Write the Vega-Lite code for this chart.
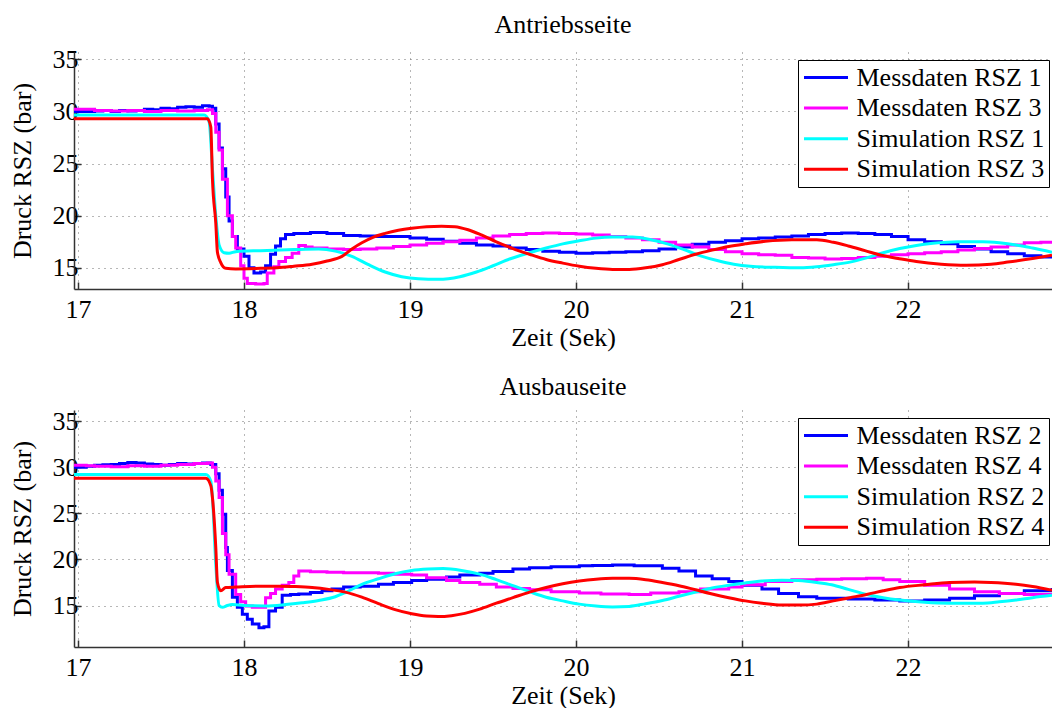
{
  "$schema": "https://vega.github.io/schema/vega-lite/v6.json",
  "background": "white",
  "padding": {"left": 9, "top": 12, "right": 0, "bottom": 0},
  "config": {
    "font": "Liberation Serif",
    "view": {"stroke": null},
    "axis": {
      "labelFont": "Liberation Serif", "labelFontSize": 26, "labelColor": "black",
      "titleFont": "Liberation Serif", "titleFontSize": 26, "titleFontWeight": "normal", "titleColor": "black",
      "domainColor": "#333333", "domainWidth": 1.5,
      "tickColor": "#333333", "tickWidth": 1.5, "tickSize": -7,
      "grid": true, "gridColor": "#6f6f6f", "gridDash": [1, 5], "gridWidth": 1
    },
    "axisX": {"labelPadding": 14, "titlePadding": 2},
    "axisY": {"labelPadding": 3, "titlePadding": 17},
    "legend": {
      "labelFont": "Liberation Serif", "labelFontSize": 26, "labelColor": "black", "labelLimit": 400,
      "symbolType": "stroke", "symbolSize": 1936, "symbolStrokeWidth": 3, "clipHeight": 26,
      "strokeColor": "black", "fillColor": "white", "padding": 4.5, "rowPadding": 4.6, "labelOffset": 7
    },
    "title": {"font": "Liberation Serif", "fontSize": 26, "fontWeight": "normal", "color": "black", "baseline": "alphabetic", "offset": 8}
  },
  "datasets": {
    "antrieb": [
      {"Reihe": "Messdaten RSZ 1", "Zeit": 16.976, "Druck": 30.0},
      {"Reihe": "Messdaten RSZ 1", "Zeit": 17.05, "Druck": 30.0},
      {"Reihe": "Messdaten RSZ 1", "Zeit": 17.1, "Druck": 30.05},
      {"Reihe": "Messdaten RSZ 1", "Zeit": 17.15, "Druck": 30.1},
      {"Reihe": "Messdaten RSZ 1", "Zeit": 17.2, "Druck": 30.0},
      {"Reihe": "Messdaten RSZ 1", "Zeit": 17.25, "Druck": 30.1},
      {"Reihe": "Messdaten RSZ 1", "Zeit": 17.3, "Druck": 30.05},
      {"Reihe": "Messdaten RSZ 1", "Zeit": 17.35, "Druck": 30.1},
      {"Reihe": "Messdaten RSZ 1", "Zeit": 17.4, "Druck": 30.2},
      {"Reihe": "Messdaten RSZ 1", "Zeit": 17.45, "Druck": 30.15},
      {"Reihe": "Messdaten RSZ 1", "Zeit": 17.5, "Druck": 30.3},
      {"Reihe": "Messdaten RSZ 1", "Zeit": 17.55, "Druck": 30.25},
      {"Reihe": "Messdaten RSZ 1", "Zeit": 17.6, "Druck": 30.4},
      {"Reihe": "Messdaten RSZ 1", "Zeit": 17.65, "Druck": 30.45},
      {"Reihe": "Messdaten RSZ 1", "Zeit": 17.7, "Druck": 30.4},
      {"Reihe": "Messdaten RSZ 1", "Zeit": 17.75, "Druck": 30.55},
      {"Reihe": "Messdaten RSZ 1", "Zeit": 17.79, "Druck": 30.5},
      {"Reihe": "Messdaten RSZ 1", "Zeit": 17.81, "Druck": 30.3},
      {"Reihe": "Messdaten RSZ 1", "Zeit": 17.83, "Druck": 28.8},
      {"Reihe": "Messdaten RSZ 1", "Zeit": 17.85, "Druck": 26.5},
      {"Reihe": "Messdaten RSZ 1", "Zeit": 17.87, "Druck": 24.5},
      {"Reihe": "Messdaten RSZ 1", "Zeit": 17.89, "Druck": 21.8},
      {"Reihe": "Messdaten RSZ 1", "Zeit": 17.91, "Druck": 19.5},
      {"Reihe": "Messdaten RSZ 1", "Zeit": 17.93, "Druck": 18.0},
      {"Reihe": "Messdaten RSZ 1", "Zeit": 17.96, "Druck": 16.8},
      {"Reihe": "Messdaten RSZ 1", "Zeit": 18.0, "Druck": 16.1},
      {"Reihe": "Messdaten RSZ 1", "Zeit": 18.03, "Druck": 15.0},
      {"Reihe": "Messdaten RSZ 1", "Zeit": 18.06, "Druck": 14.5},
      {"Reihe": "Messdaten RSZ 1", "Zeit": 18.1, "Druck": 14.6},
      {"Reihe": "Messdaten RSZ 1", "Zeit": 18.13, "Druck": 15.2},
      {"Reihe": "Messdaten RSZ 1", "Zeit": 18.16, "Druck": 16.3},
      {"Reihe": "Messdaten RSZ 1", "Zeit": 18.19, "Druck": 17.1},
      {"Reihe": "Messdaten RSZ 1", "Zeit": 18.22, "Druck": 17.8},
      {"Reihe": "Messdaten RSZ 1", "Zeit": 18.25, "Druck": 18.2},
      {"Reihe": "Messdaten RSZ 1", "Zeit": 18.3, "Druck": 18.3},
      {"Reihe": "Messdaten RSZ 1", "Zeit": 18.4, "Druck": 18.4},
      {"Reihe": "Messdaten RSZ 1", "Zeit": 18.5, "Druck": 18.3},
      {"Reihe": "Messdaten RSZ 1", "Zeit": 18.6, "Druck": 18.1},
      {"Reihe": "Messdaten RSZ 1", "Zeit": 18.7, "Druck": 18.05},
      {"Reihe": "Messdaten RSZ 1", "Zeit": 18.8, "Druck": 18.0},
      {"Reihe": "Messdaten RSZ 1", "Zeit": 18.9, "Druck": 18.0},
      {"Reihe": "Messdaten RSZ 1", "Zeit": 19.0, "Druck": 17.85},
      {"Reihe": "Messdaten RSZ 1", "Zeit": 19.1, "Druck": 17.75},
      {"Reihe": "Messdaten RSZ 1", "Zeit": 19.2, "Druck": 17.55},
      {"Reihe": "Messdaten RSZ 1", "Zeit": 19.3, "Druck": 17.35},
      {"Reihe": "Messdaten RSZ 1", "Zeit": 19.4, "Druck": 17.2},
      {"Reihe": "Messdaten RSZ 1", "Zeit": 19.5, "Druck": 17.1},
      {"Reihe": "Messdaten RSZ 1", "Zeit": 19.6, "Druck": 16.9},
      {"Reihe": "Messdaten RSZ 1", "Zeit": 19.7, "Druck": 16.75},
      {"Reihe": "Messdaten RSZ 1", "Zeit": 19.8, "Druck": 16.6},
      {"Reihe": "Messdaten RSZ 1", "Zeit": 19.9, "Druck": 16.5},
      {"Reihe": "Messdaten RSZ 1", "Zeit": 20.0, "Druck": 16.4},
      {"Reihe": "Messdaten RSZ 1", "Zeit": 20.1, "Druck": 16.45},
      {"Reihe": "Messdaten RSZ 1", "Zeit": 20.2, "Druck": 16.5},
      {"Reihe": "Messdaten RSZ 1", "Zeit": 20.3, "Druck": 16.55},
      {"Reihe": "Messdaten RSZ 1", "Zeit": 20.4, "Druck": 16.65},
      {"Reihe": "Messdaten RSZ 1", "Zeit": 20.5, "Druck": 16.8},
      {"Reihe": "Messdaten RSZ 1", "Zeit": 20.6, "Druck": 17.0},
      {"Reihe": "Messdaten RSZ 1", "Zeit": 20.7, "Druck": 17.25},
      {"Reihe": "Messdaten RSZ 1", "Zeit": 20.8, "Druck": 17.45},
      {"Reihe": "Messdaten RSZ 1", "Zeit": 20.9, "Druck": 17.6},
      {"Reihe": "Messdaten RSZ 1", "Zeit": 21.0, "Druck": 17.8},
      {"Reihe": "Messdaten RSZ 1", "Zeit": 21.1, "Druck": 17.85},
      {"Reihe": "Messdaten RSZ 1", "Zeit": 21.2, "Druck": 17.95},
      {"Reihe": "Messdaten RSZ 1", "Zeit": 21.3, "Druck": 18.05},
      {"Reihe": "Messdaten RSZ 1", "Zeit": 21.4, "Druck": 18.2},
      {"Reihe": "Messdaten RSZ 1", "Zeit": 21.5, "Druck": 18.3},
      {"Reihe": "Messdaten RSZ 1", "Zeit": 21.6, "Druck": 18.35},
      {"Reihe": "Messdaten RSZ 1", "Zeit": 21.7, "Druck": 18.3},
      {"Reihe": "Messdaten RSZ 1", "Zeit": 21.8, "Druck": 18.2},
      {"Reihe": "Messdaten RSZ 1", "Zeit": 21.9, "Druck": 18.0},
      {"Reihe": "Messdaten RSZ 1", "Zeit": 22.0, "Druck": 17.7},
      {"Reihe": "Messdaten RSZ 1", "Zeit": 22.1, "Druck": 17.5},
      {"Reihe": "Messdaten RSZ 1", "Zeit": 22.2, "Druck": 17.3},
      {"Reihe": "Messdaten RSZ 1", "Zeit": 22.3, "Druck": 17.05},
      {"Reihe": "Messdaten RSZ 1", "Zeit": 22.4, "Druck": 16.8},
      {"Reihe": "Messdaten RSZ 1", "Zeit": 22.5, "Druck": 16.55},
      {"Reihe": "Messdaten RSZ 1", "Zeit": 22.6, "Druck": 16.35},
      {"Reihe": "Messdaten RSZ 1", "Zeit": 22.7, "Druck": 16.15},
      {"Reihe": "Messdaten RSZ 1", "Zeit": 22.8, "Druck": 16.05},
      {"Reihe": "Messdaten RSZ 1", "Zeit": 22.867, "Druck": 16.0},

      {"Reihe": "Messdaten RSZ 3", "Zeit": 16.976, "Druck": 30.2},
      {"Reihe": "Messdaten RSZ 3", "Zeit": 17.1, "Druck": 30.1},
      {"Reihe": "Messdaten RSZ 3", "Zeit": 17.2, "Druck": 30.05},
      {"Reihe": "Messdaten RSZ 3", "Zeit": 17.3, "Druck": 30.1},
      {"Reihe": "Messdaten RSZ 3", "Zeit": 17.4, "Druck": 30.0},
      {"Reihe": "Messdaten RSZ 3", "Zeit": 17.5, "Druck": 30.1},
      {"Reihe": "Messdaten RSZ 3", "Zeit": 17.6, "Druck": 30.05},
      {"Reihe": "Messdaten RSZ 3", "Zeit": 17.7, "Druck": 30.1},
      {"Reihe": "Messdaten RSZ 3", "Zeit": 17.78, "Druck": 30.15},
      {"Reihe": "Messdaten RSZ 3", "Zeit": 17.81, "Druck": 29.8},
      {"Reihe": "Messdaten RSZ 3", "Zeit": 17.83, "Druck": 28.0},
      {"Reihe": "Messdaten RSZ 3", "Zeit": 17.85, "Druck": 26.3},
      {"Reihe": "Messdaten RSZ 3", "Zeit": 17.87, "Druck": 23.5},
      {"Reihe": "Messdaten RSZ 3", "Zeit": 17.9, "Druck": 20.0},
      {"Reihe": "Messdaten RSZ 3", "Zeit": 17.93, "Druck": 18.0},
      {"Reihe": "Messdaten RSZ 3", "Zeit": 17.95, "Druck": 16.9},
      {"Reihe": "Messdaten RSZ 3", "Zeit": 17.98, "Druck": 15.2},
      {"Reihe": "Messdaten RSZ 3", "Zeit": 18.0, "Druck": 14.0},
      {"Reihe": "Messdaten RSZ 3", "Zeit": 18.02, "Druck": 13.5},
      {"Reihe": "Messdaten RSZ 3", "Zeit": 18.07, "Druck": 13.45},
      {"Reihe": "Messdaten RSZ 3", "Zeit": 18.12, "Druck": 13.5},
      {"Reihe": "Messdaten RSZ 3", "Zeit": 18.14, "Druck": 14.5},
      {"Reihe": "Messdaten RSZ 3", "Zeit": 18.18, "Druck": 15.1},
      {"Reihe": "Messdaten RSZ 3", "Zeit": 18.21, "Druck": 15.6},
      {"Reihe": "Messdaten RSZ 3", "Zeit": 18.25, "Druck": 16.0},
      {"Reihe": "Messdaten RSZ 3", "Zeit": 18.29, "Druck": 16.4},
      {"Reihe": "Messdaten RSZ 3", "Zeit": 18.33, "Druck": 17.15},
      {"Reihe": "Messdaten RSZ 3", "Zeit": 18.37, "Druck": 17.0},
      {"Reihe": "Messdaten RSZ 3", "Zeit": 18.41, "Druck": 16.9},
      {"Reihe": "Messdaten RSZ 3", "Zeit": 18.5, "Druck": 16.8},
      {"Reihe": "Messdaten RSZ 3", "Zeit": 18.6, "Druck": 16.75},
      {"Reihe": "Messdaten RSZ 3", "Zeit": 18.7, "Druck": 16.8},
      {"Reihe": "Messdaten RSZ 3", "Zeit": 18.8, "Druck": 16.9},
      {"Reihe": "Messdaten RSZ 3", "Zeit": 18.9, "Druck": 17.05},
      {"Reihe": "Messdaten RSZ 3", "Zeit": 19.0, "Druck": 17.2},
      {"Reihe": "Messdaten RSZ 3", "Zeit": 19.1, "Druck": 17.35},
      {"Reihe": "Messdaten RSZ 3", "Zeit": 19.2, "Druck": 17.5},
      {"Reihe": "Messdaten RSZ 3", "Zeit": 19.3, "Druck": 17.65},
      {"Reihe": "Messdaten RSZ 3", "Zeit": 19.4, "Druck": 17.85},
      {"Reihe": "Messdaten RSZ 3", "Zeit": 19.5, "Druck": 18.05},
      {"Reihe": "Messdaten RSZ 3", "Zeit": 19.6, "Druck": 18.2},
      {"Reihe": "Messdaten RSZ 3", "Zeit": 19.7, "Druck": 18.3},
      {"Reihe": "Messdaten RSZ 3", "Zeit": 19.8, "Druck": 18.35},
      {"Reihe": "Messdaten RSZ 3", "Zeit": 19.9, "Druck": 18.3},
      {"Reihe": "Messdaten RSZ 3", "Zeit": 20.0, "Druck": 18.25},
      {"Reihe": "Messdaten RSZ 3", "Zeit": 20.1, "Druck": 18.15},
      {"Reihe": "Messdaten RSZ 3", "Zeit": 20.2, "Druck": 18.0},
      {"Reihe": "Messdaten RSZ 3", "Zeit": 20.3, "Druck": 17.85},
      {"Reihe": "Messdaten RSZ 3", "Zeit": 20.4, "Druck": 17.7},
      {"Reihe": "Messdaten RSZ 3", "Zeit": 20.5, "Druck": 17.45},
      {"Reihe": "Messdaten RSZ 3", "Zeit": 20.6, "Druck": 17.2},
      {"Reihe": "Messdaten RSZ 3", "Zeit": 20.7, "Druck": 17.0},
      {"Reihe": "Messdaten RSZ 3", "Zeit": 20.8, "Druck": 16.75},
      {"Reihe": "Messdaten RSZ 3", "Zeit": 20.9, "Druck": 16.55},
      {"Reihe": "Messdaten RSZ 3", "Zeit": 21.0, "Druck": 16.35},
      {"Reihe": "Messdaten RSZ 3", "Zeit": 21.1, "Druck": 16.25},
      {"Reihe": "Messdaten RSZ 3", "Zeit": 21.2, "Druck": 16.2},
      {"Reihe": "Messdaten RSZ 3", "Zeit": 21.3, "Druck": 16.0},
      {"Reihe": "Messdaten RSZ 3", "Zeit": 21.4, "Druck": 15.95},
      {"Reihe": "Messdaten RSZ 3", "Zeit": 21.5, "Druck": 15.85},
      {"Reihe": "Messdaten RSZ 3", "Zeit": 21.6, "Druck": 15.9},
      {"Reihe": "Messdaten RSZ 3", "Zeit": 21.7, "Druck": 16.0},
      {"Reihe": "Messdaten RSZ 3", "Zeit": 21.8, "Druck": 16.1},
      {"Reihe": "Messdaten RSZ 3", "Zeit": 21.9, "Druck": 16.25},
      {"Reihe": "Messdaten RSZ 3", "Zeit": 22.0, "Druck": 16.35},
      {"Reihe": "Messdaten RSZ 3", "Zeit": 22.1, "Druck": 16.45},
      {"Reihe": "Messdaten RSZ 3", "Zeit": 22.2, "Druck": 16.55},
      {"Reihe": "Messdaten RSZ 3", "Zeit": 22.3, "Druck": 16.7},
      {"Reihe": "Messdaten RSZ 3", "Zeit": 22.4, "Druck": 16.85},
      {"Reihe": "Messdaten RSZ 3", "Zeit": 22.5, "Druck": 17.0},
      {"Reihe": "Messdaten RSZ 3", "Zeit": 22.6, "Druck": 17.2},
      {"Reihe": "Messdaten RSZ 3", "Zeit": 22.7, "Druck": 17.4},
      {"Reihe": "Messdaten RSZ 3", "Zeit": 22.8, "Druck": 17.45},
      {"Reihe": "Messdaten RSZ 3", "Zeit": 22.867, "Druck": 17.5},

      {"Reihe": "Simulation RSZ 1", "Zeit": 16.976, "Druck": 29.65},
      {"Reihe": "Simulation RSZ 1", "Zeit": 17.76, "Druck": 29.65},
      {"Reihe": "Simulation RSZ 1", "Zeit": 17.79, "Druck": 29.0},
      {"Reihe": "Simulation RSZ 1", "Zeit": 17.81, "Druck": 24.5},
      {"Reihe": "Simulation RSZ 1", "Zeit": 17.83, "Druck": 20.0},
      {"Reihe": "Simulation RSZ 1", "Zeit": 17.85, "Druck": 17.2},
      {"Reihe": "Simulation RSZ 1", "Zeit": 17.88, "Druck": 16.45},
      {"Reihe": "Simulation RSZ 1", "Zeit": 17.91, "Druck": 16.4},
      {"Reihe": "Simulation RSZ 1", "Zeit": 17.95, "Druck": 16.55},
      {"Reihe": "Simulation RSZ 1", "Zeit": 18.1, "Druck": 16.65},
      {"Reihe": "Simulation RSZ 1", "Zeit": 18.3, "Druck": 16.75},
      {"Reihe": "Simulation RSZ 1", "Zeit": 18.45, "Druck": 16.8},
      {"Reihe": "Simulation RSZ 1", "Zeit": 18.55, "Druck": 16.6},
      {"Reihe": "Simulation RSZ 1", "Zeit": 18.65, "Druck": 16.1},
      {"Reihe": "Simulation RSZ 1", "Zeit": 18.75, "Druck": 15.3},
      {"Reihe": "Simulation RSZ 1", "Zeit": 18.85, "Druck": 14.6},
      {"Reihe": "Simulation RSZ 1", "Zeit": 18.95, "Druck": 14.15},
      {"Reihe": "Simulation RSZ 1", "Zeit": 19.05, "Druck": 13.95},
      {"Reihe": "Simulation RSZ 1", "Zeit": 19.17, "Druck": 13.9},
      {"Reihe": "Simulation RSZ 1", "Zeit": 19.3, "Druck": 14.15},
      {"Reihe": "Simulation RSZ 1", "Zeit": 19.4, "Druck": 14.6},
      {"Reihe": "Simulation RSZ 1", "Zeit": 19.5, "Druck": 15.2},
      {"Reihe": "Simulation RSZ 1", "Zeit": 19.6, "Druck": 15.85},
      {"Reihe": "Simulation RSZ 1", "Zeit": 19.72, "Druck": 16.45},
      {"Reihe": "Simulation RSZ 1", "Zeit": 19.82, "Druck": 16.9},
      {"Reihe": "Simulation RSZ 1", "Zeit": 19.92, "Druck": 17.3},
      {"Reihe": "Simulation RSZ 1", "Zeit": 20.02, "Druck": 17.6},
      {"Reihe": "Simulation RSZ 1", "Zeit": 20.12, "Druck": 17.85},
      {"Reihe": "Simulation RSZ 1", "Zeit": 20.22, "Druck": 17.95},
      {"Reihe": "Simulation RSZ 1", "Zeit": 20.34, "Druck": 17.95},
      {"Reihe": "Simulation RSZ 1", "Zeit": 20.45, "Druck": 17.7},
      {"Reihe": "Simulation RSZ 1", "Zeit": 20.55, "Druck": 17.3},
      {"Reihe": "Simulation RSZ 1", "Zeit": 20.65, "Druck": 16.75},
      {"Reihe": "Simulation RSZ 1", "Zeit": 20.75, "Druck": 16.15},
      {"Reihe": "Simulation RSZ 1", "Zeit": 20.85, "Druck": 15.7},
      {"Reihe": "Simulation RSZ 1", "Zeit": 20.95, "Druck": 15.35},
      {"Reihe": "Simulation RSZ 1", "Zeit": 21.05, "Druck": 15.15},
      {"Reihe": "Simulation RSZ 1", "Zeit": 21.2, "Druck": 15.05},
      {"Reihe": "Simulation RSZ 1", "Zeit": 21.35, "Druck": 15.0},
      {"Reihe": "Simulation RSZ 1", "Zeit": 21.45, "Druck": 15.1},
      {"Reihe": "Simulation RSZ 1", "Zeit": 21.55, "Druck": 15.3},
      {"Reihe": "Simulation RSZ 1", "Zeit": 21.65, "Druck": 15.55},
      {"Reihe": "Simulation RSZ 1", "Zeit": 21.75, "Druck": 15.95},
      {"Reihe": "Simulation RSZ 1", "Zeit": 21.85, "Druck": 16.45},
      {"Reihe": "Simulation RSZ 1", "Zeit": 21.95, "Druck": 16.85},
      {"Reihe": "Simulation RSZ 1", "Zeit": 22.05, "Druck": 17.15},
      {"Reihe": "Simulation RSZ 1", "Zeit": 22.15, "Druck": 17.35},
      {"Reihe": "Simulation RSZ 1", "Zeit": 22.3, "Druck": 17.5},
      {"Reihe": "Simulation RSZ 1", "Zeit": 22.45, "Druck": 17.5},
      {"Reihe": "Simulation RSZ 1", "Zeit": 22.55, "Druck": 17.4},
      {"Reihe": "Simulation RSZ 1", "Zeit": 22.65, "Druck": 17.2},
      {"Reihe": "Simulation RSZ 1", "Zeit": 22.75, "Druck": 16.9},
      {"Reihe": "Simulation RSZ 1", "Zeit": 22.867, "Druck": 16.5},

      {"Reihe": "Simulation RSZ 3", "Zeit": 16.976, "Druck": 29.3},
      {"Reihe": "Simulation RSZ 3", "Zeit": 17.78, "Druck": 29.3},
      {"Reihe": "Simulation RSZ 3", "Zeit": 17.8, "Druck": 28.5},
      {"Reihe": "Simulation RSZ 3", "Zeit": 17.81, "Druck": 23.5},
      {"Reihe": "Simulation RSZ 3", "Zeit": 17.83, "Druck": 19.3},
      {"Reihe": "Simulation RSZ 3", "Zeit": 17.84, "Druck": 16.5},
      {"Reihe": "Simulation RSZ 3", "Zeit": 17.86, "Druck": 15.5},
      {"Reihe": "Simulation RSZ 3", "Zeit": 17.89, "Druck": 14.95},
      {"Reihe": "Simulation RSZ 3", "Zeit": 17.95, "Druck": 14.9},
      {"Reihe": "Simulation RSZ 3", "Zeit": 18.1, "Druck": 14.95},
      {"Reihe": "Simulation RSZ 3", "Zeit": 18.2, "Druck": 15.0},
      {"Reihe": "Simulation RSZ 3", "Zeit": 18.3, "Druck": 15.15},
      {"Reihe": "Simulation RSZ 3", "Zeit": 18.41, "Druck": 15.35},
      {"Reihe": "Simulation RSZ 3", "Zeit": 18.5, "Druck": 15.65},
      {"Reihe": "Simulation RSZ 3", "Zeit": 18.59, "Druck": 16.1},
      {"Reihe": "Simulation RSZ 3", "Zeit": 18.65, "Druck": 16.8},
      {"Reihe": "Simulation RSZ 3", "Zeit": 18.71, "Druck": 17.4},
      {"Reihe": "Simulation RSZ 3", "Zeit": 18.78, "Druck": 17.95},
      {"Reihe": "Simulation RSZ 3", "Zeit": 18.85, "Druck": 18.3},
      {"Reihe": "Simulation RSZ 3", "Zeit": 18.93, "Druck": 18.6},
      {"Reihe": "Simulation RSZ 3", "Zeit": 19.01, "Druck": 18.8},
      {"Reihe": "Simulation RSZ 3", "Zeit": 19.1, "Druck": 18.95},
      {"Reihe": "Simulation RSZ 3", "Zeit": 19.19, "Druck": 19.0},
      {"Reihe": "Simulation RSZ 3", "Zeit": 19.27, "Druck": 18.95},
      {"Reihe": "Simulation RSZ 3", "Zeit": 19.35, "Druck": 18.65},
      {"Reihe": "Simulation RSZ 3", "Zeit": 19.43, "Druck": 18.15},
      {"Reihe": "Simulation RSZ 3", "Zeit": 19.52, "Druck": 17.5},
      {"Reihe": "Simulation RSZ 3", "Zeit": 19.62, "Druck": 16.85},
      {"Reihe": "Simulation RSZ 3", "Zeit": 19.72, "Druck": 16.3},
      {"Reihe": "Simulation RSZ 3", "Zeit": 19.82, "Druck": 15.8},
      {"Reihe": "Simulation RSZ 3", "Zeit": 19.92, "Druck": 15.45},
      {"Reihe": "Simulation RSZ 3", "Zeit": 20.02, "Druck": 15.15},
      {"Reihe": "Simulation RSZ 3", "Zeit": 20.12, "Druck": 14.95},
      {"Reihe": "Simulation RSZ 3", "Zeit": 20.22, "Druck": 14.85},
      {"Reihe": "Simulation RSZ 3", "Zeit": 20.32, "Druck": 14.85},
      {"Reihe": "Simulation RSZ 3", "Zeit": 20.42, "Druck": 15.0},
      {"Reihe": "Simulation RSZ 3", "Zeit": 20.52, "Druck": 15.3},
      {"Reihe": "Simulation RSZ 3", "Zeit": 20.62, "Druck": 15.8},
      {"Reihe": "Simulation RSZ 3", "Zeit": 20.72, "Druck": 16.3},
      {"Reihe": "Simulation RSZ 3", "Zeit": 20.82, "Druck": 16.7},
      {"Reihe": "Simulation RSZ 3", "Zeit": 20.92, "Druck": 17.05},
      {"Reihe": "Simulation RSZ 3", "Zeit": 21.02, "Druck": 17.3},
      {"Reihe": "Simulation RSZ 3", "Zeit": 21.14, "Druck": 17.55},
      {"Reihe": "Simulation RSZ 3", "Zeit": 21.3, "Druck": 17.7},
      {"Reihe": "Simulation RSZ 3", "Zeit": 21.45, "Druck": 17.7},
      {"Reihe": "Simulation RSZ 3", "Zeit": 21.55, "Druck": 17.45},
      {"Reihe": "Simulation RSZ 3", "Zeit": 21.64, "Druck": 17.1},
      {"Reihe": "Simulation RSZ 3", "Zeit": 21.74, "Druck": 16.65},
      {"Reihe": "Simulation RSZ 3", "Zeit": 21.84, "Druck": 16.2},
      {"Reihe": "Simulation RSZ 3", "Zeit": 21.94, "Druck": 15.9},
      {"Reihe": "Simulation RSZ 3", "Zeit": 22.05, "Druck": 15.6},
      {"Reihe": "Simulation RSZ 3", "Zeit": 22.2, "Druck": 15.35},
      {"Reihe": "Simulation RSZ 3", "Zeit": 22.35, "Druck": 15.25},
      {"Reihe": "Simulation RSZ 3", "Zeit": 22.5, "Druck": 15.35},
      {"Reihe": "Simulation RSZ 3", "Zeit": 22.6, "Druck": 15.55},
      {"Reihe": "Simulation RSZ 3", "Zeit": 22.75, "Druck": 15.9},
      {"Reihe": "Simulation RSZ 3", "Zeit": 22.867, "Druck": 16.2}
    ],
    "ausbau": [
      {"Reihe": "Messdaten RSZ 2", "Zeit": 16.976, "Druck": 30.0},
      {"Reihe": "Messdaten RSZ 2", "Zeit": 17.05, "Druck": 30.1},
      {"Reihe": "Messdaten RSZ 2", "Zeit": 17.1, "Druck": 30.2},
      {"Reihe": "Messdaten RSZ 2", "Zeit": 17.15, "Druck": 30.25},
      {"Reihe": "Messdaten RSZ 2", "Zeit": 17.2, "Druck": 30.3},
      {"Reihe": "Messdaten RSZ 2", "Zeit": 17.25, "Druck": 30.4},
      {"Reihe": "Messdaten RSZ 2", "Zeit": 17.3, "Druck": 30.5},
      {"Reihe": "Messdaten RSZ 2", "Zeit": 17.35, "Druck": 30.45},
      {"Reihe": "Messdaten RSZ 2", "Zeit": 17.4, "Druck": 30.35},
      {"Reihe": "Messdaten RSZ 2", "Zeit": 17.45, "Druck": 30.3},
      {"Reihe": "Messdaten RSZ 2", "Zeit": 17.5, "Druck": 30.2},
      {"Reihe": "Messdaten RSZ 2", "Zeit": 17.55, "Druck": 30.3},
      {"Reihe": "Messdaten RSZ 2", "Zeit": 17.6, "Druck": 30.4},
      {"Reihe": "Messdaten RSZ 2", "Zeit": 17.65, "Druck": 30.35},
      {"Reihe": "Messdaten RSZ 2", "Zeit": 17.7, "Druck": 30.4},
      {"Reihe": "Messdaten RSZ 2", "Zeit": 17.75, "Druck": 30.45},
      {"Reihe": "Messdaten RSZ 2", "Zeit": 17.8, "Druck": 30.3},
      {"Reihe": "Messdaten RSZ 2", "Zeit": 17.83, "Druck": 29.3},
      {"Reihe": "Messdaten RSZ 2", "Zeit": 17.85, "Druck": 27.5},
      {"Reihe": "Messdaten RSZ 2", "Zeit": 17.87, "Druck": 24.9},
      {"Reihe": "Messdaten RSZ 2", "Zeit": 17.89, "Druck": 21.3},
      {"Reihe": "Messdaten RSZ 2", "Zeit": 17.9, "Druck": 18.8},
      {"Reihe": "Messdaten RSZ 2", "Zeit": 17.93, "Druck": 15.9},
      {"Reihe": "Messdaten RSZ 2", "Zeit": 17.96, "Druck": 14.8},
      {"Reihe": "Messdaten RSZ 2", "Zeit": 17.99, "Druck": 14.05},
      {"Reihe": "Messdaten RSZ 2", "Zeit": 18.02, "Druck": 13.5},
      {"Reihe": "Messdaten RSZ 2", "Zeit": 18.05, "Druck": 13.0},
      {"Reihe": "Messdaten RSZ 2", "Zeit": 18.09, "Druck": 12.6},
      {"Reihe": "Messdaten RSZ 2", "Zeit": 18.12, "Druck": 12.7},
      {"Reihe": "Messdaten RSZ 2", "Zeit": 18.15, "Druck": 14.4},
      {"Reihe": "Messdaten RSZ 2", "Zeit": 18.19, "Druck": 14.8},
      {"Reihe": "Messdaten RSZ 2", "Zeit": 18.23, "Druck": 16.1},
      {"Reihe": "Messdaten RSZ 2", "Zeit": 18.28, "Druck": 16.2},
      {"Reihe": "Messdaten RSZ 2", "Zeit": 18.33, "Druck": 16.25},
      {"Reihe": "Messdaten RSZ 2", "Zeit": 18.4, "Druck": 16.4},
      {"Reihe": "Messdaten RSZ 2", "Zeit": 18.47, "Druck": 16.6},
      {"Reihe": "Messdaten RSZ 2", "Zeit": 18.53, "Druck": 16.8},
      {"Reihe": "Messdaten RSZ 2", "Zeit": 18.6, "Druck": 17.0},
      {"Reihe": "Messdaten RSZ 2", "Zeit": 18.7, "Druck": 17.1},
      {"Reihe": "Messdaten RSZ 2", "Zeit": 18.81, "Druck": 17.3},
      {"Reihe": "Messdaten RSZ 2", "Zeit": 18.9, "Druck": 17.5},
      {"Reihe": "Messdaten RSZ 2", "Zeit": 19.01, "Druck": 17.7},
      {"Reihe": "Messdaten RSZ 2", "Zeit": 19.1, "Druck": 17.85},
      {"Reihe": "Messdaten RSZ 2", "Zeit": 19.22, "Druck": 18.1},
      {"Reihe": "Messdaten RSZ 2", "Zeit": 19.3, "Druck": 18.3},
      {"Reihe": "Messdaten RSZ 2", "Zeit": 19.42, "Druck": 18.5},
      {"Reihe": "Messdaten RSZ 2", "Zeit": 19.5, "Druck": 18.7},
      {"Reihe": "Messdaten RSZ 2", "Zeit": 19.62, "Druck": 18.95},
      {"Reihe": "Messdaten RSZ 2", "Zeit": 19.72, "Druck": 19.1},
      {"Reihe": "Messdaten RSZ 2", "Zeit": 19.85, "Druck": 19.2},
      {"Reihe": "Messdaten RSZ 2", "Zeit": 20.02, "Druck": 19.3},
      {"Reihe": "Messdaten RSZ 2", "Zeit": 20.1, "Druck": 19.35},
      {"Reihe": "Messdaten RSZ 2", "Zeit": 20.22, "Druck": 19.4},
      {"Reihe": "Messdaten RSZ 2", "Zeit": 20.35, "Druck": 19.3},
      {"Reihe": "Messdaten RSZ 2", "Zeit": 20.52, "Druck": 19.05},
      {"Reihe": "Messdaten RSZ 2", "Zeit": 20.62, "Druck": 18.75},
      {"Reihe": "Messdaten RSZ 2", "Zeit": 20.72, "Druck": 18.2},
      {"Reihe": "Messdaten RSZ 2", "Zeit": 20.82, "Druck": 17.9},
      {"Reihe": "Messdaten RSZ 2", "Zeit": 20.92, "Druck": 17.6},
      {"Reihe": "Messdaten RSZ 2", "Zeit": 21.0, "Druck": 17.2},
      {"Reihe": "Messdaten RSZ 2", "Zeit": 21.12, "Druck": 16.8},
      {"Reihe": "Messdaten RSZ 2", "Zeit": 21.22, "Druck": 16.3},
      {"Reihe": "Messdaten RSZ 2", "Zeit": 21.34, "Druck": 15.95},
      {"Reihe": "Messdaten RSZ 2", "Zeit": 21.45, "Druck": 15.8},
      {"Reihe": "Messdaten RSZ 2", "Zeit": 21.64, "Druck": 15.7},
      {"Reihe": "Messdaten RSZ 2", "Zeit": 21.8, "Druck": 15.6},
      {"Reihe": "Messdaten RSZ 2", "Zeit": 21.95, "Druck": 15.5},
      {"Reihe": "Messdaten RSZ 2", "Zeit": 22.1, "Druck": 15.6},
      {"Reihe": "Messdaten RSZ 2", "Zeit": 22.25, "Druck": 15.8},
      {"Reihe": "Messdaten RSZ 2", "Zeit": 22.4, "Druck": 16.05},
      {"Reihe": "Messdaten RSZ 2", "Zeit": 22.55, "Druck": 16.3},
      {"Reihe": "Messdaten RSZ 2", "Zeit": 22.7, "Druck": 16.6},
      {"Reihe": "Messdaten RSZ 2", "Zeit": 22.867, "Druck": 16.9},

      {"Reihe": "Messdaten RSZ 4", "Zeit": 16.976, "Druck": 30.2},
      {"Reihe": "Messdaten RSZ 4", "Zeit": 17.05, "Druck": 30.15},
      {"Reihe": "Messdaten RSZ 4", "Zeit": 17.1, "Druck": 30.1},
      {"Reihe": "Messdaten RSZ 4", "Zeit": 17.2, "Druck": 30.05},
      {"Reihe": "Messdaten RSZ 4", "Zeit": 17.3, "Druck": 30.15},
      {"Reihe": "Messdaten RSZ 4", "Zeit": 17.4, "Druck": 30.1},
      {"Reihe": "Messdaten RSZ 4", "Zeit": 17.5, "Druck": 30.2},
      {"Reihe": "Messdaten RSZ 4", "Zeit": 17.6, "Druck": 30.3},
      {"Reihe": "Messdaten RSZ 4", "Zeit": 17.7, "Druck": 30.4},
      {"Reihe": "Messdaten RSZ 4", "Zeit": 17.78, "Druck": 30.45},
      {"Reihe": "Messdaten RSZ 4", "Zeit": 17.81, "Druck": 30.0},
      {"Reihe": "Messdaten RSZ 4", "Zeit": 17.83, "Druck": 28.5},
      {"Reihe": "Messdaten RSZ 4", "Zeit": 17.85, "Druck": 26.7},
      {"Reihe": "Messdaten RSZ 4", "Zeit": 17.87, "Druck": 22.8},
      {"Reihe": "Messdaten RSZ 4", "Zeit": 17.89, "Druck": 20.5},
      {"Reihe": "Messdaten RSZ 4", "Zeit": 17.91, "Druck": 18.4},
      {"Reihe": "Messdaten RSZ 4", "Zeit": 17.95, "Druck": 16.2},
      {"Reihe": "Messdaten RSZ 4", "Zeit": 17.98, "Druck": 15.4},
      {"Reihe": "Messdaten RSZ 4", "Zeit": 18.01, "Druck": 14.95},
      {"Reihe": "Messdaten RSZ 4", "Zeit": 18.05, "Druck": 14.8},
      {"Reihe": "Messdaten RSZ 4", "Zeit": 18.11, "Druck": 14.8},
      {"Reihe": "Messdaten RSZ 4", "Zeit": 18.13, "Druck": 15.85},
      {"Reihe": "Messdaten RSZ 4", "Zeit": 18.16, "Druck": 16.3},
      {"Reihe": "Messdaten RSZ 4", "Zeit": 18.19, "Druck": 16.8},
      {"Reihe": "Messdaten RSZ 4", "Zeit": 18.23, "Druck": 17.2},
      {"Reihe": "Messdaten RSZ 4", "Zeit": 18.27, "Druck": 17.5},
      {"Reihe": "Messdaten RSZ 4", "Zeit": 18.3, "Druck": 18.2},
      {"Reihe": "Messdaten RSZ 4", "Zeit": 18.33, "Druck": 18.75},
      {"Reihe": "Messdaten RSZ 4", "Zeit": 18.4, "Druck": 18.65},
      {"Reihe": "Messdaten RSZ 4", "Zeit": 18.5, "Druck": 18.6},
      {"Reihe": "Messdaten RSZ 4", "Zeit": 18.6, "Druck": 18.55},
      {"Reihe": "Messdaten RSZ 4", "Zeit": 18.7, "Druck": 18.55},
      {"Reihe": "Messdaten RSZ 4", "Zeit": 18.81, "Druck": 18.5},
      {"Reihe": "Messdaten RSZ 4", "Zeit": 18.9, "Druck": 18.4},
      {"Reihe": "Messdaten RSZ 4", "Zeit": 19.01, "Druck": 18.3},
      {"Reihe": "Messdaten RSZ 4", "Zeit": 19.1, "Druck": 18.0},
      {"Reihe": "Messdaten RSZ 4", "Zeit": 19.22, "Druck": 17.7},
      {"Reihe": "Messdaten RSZ 4", "Zeit": 19.3, "Druck": 17.5},
      {"Reihe": "Messdaten RSZ 4", "Zeit": 19.42, "Druck": 17.3},
      {"Reihe": "Messdaten RSZ 4", "Zeit": 19.52, "Druck": 17.0},
      {"Reihe": "Messdaten RSZ 4", "Zeit": 19.62, "Druck": 16.85},
      {"Reihe": "Messdaten RSZ 4", "Zeit": 19.72, "Druck": 16.7},
      {"Reihe": "Messdaten RSZ 4", "Zeit": 19.85, "Druck": 16.5},
      {"Reihe": "Messdaten RSZ 4", "Zeit": 20.02, "Druck": 16.35},
      {"Reihe": "Messdaten RSZ 4", "Zeit": 20.15, "Druck": 16.25},
      {"Reihe": "Messdaten RSZ 4", "Zeit": 20.32, "Druck": 16.2},
      {"Reihe": "Messdaten RSZ 4", "Zeit": 20.45, "Druck": 16.35},
      {"Reihe": "Messdaten RSZ 4", "Zeit": 20.62, "Druck": 16.5},
      {"Reihe": "Messdaten RSZ 4", "Zeit": 20.75, "Druck": 16.8},
      {"Reihe": "Messdaten RSZ 4", "Zeit": 20.92, "Druck": 17.0},
      {"Reihe": "Messdaten RSZ 4", "Zeit": 21.0, "Druck": 17.25},
      {"Reihe": "Messdaten RSZ 4", "Zeit": 21.14, "Druck": 17.6},
      {"Reihe": "Messdaten RSZ 4", "Zeit": 21.3, "Druck": 17.8},
      {"Reihe": "Messdaten RSZ 4", "Zeit": 21.45, "Druck": 17.85},
      {"Reihe": "Messdaten RSZ 4", "Zeit": 21.6, "Druck": 17.9},
      {"Reihe": "Messdaten RSZ 4", "Zeit": 21.75, "Druck": 17.95},
      {"Reihe": "Messdaten RSZ 4", "Zeit": 21.85, "Druck": 17.8},
      {"Reihe": "Messdaten RSZ 4", "Zeit": 21.95, "Druck": 17.6},
      {"Reihe": "Messdaten RSZ 4", "Zeit": 22.1, "Druck": 17.2},
      {"Reihe": "Messdaten RSZ 4", "Zeit": 22.25, "Druck": 16.8},
      {"Reihe": "Messdaten RSZ 4", "Zeit": 22.4, "Druck": 16.5},
      {"Reihe": "Messdaten RSZ 4", "Zeit": 22.55, "Druck": 16.3},
      {"Reihe": "Messdaten RSZ 4", "Zeit": 22.7, "Druck": 16.2},
      {"Reihe": "Messdaten RSZ 4", "Zeit": 22.867, "Druck": 16.15},

      {"Reihe": "Simulation RSZ 2", "Zeit": 16.976, "Druck": 29.2},
      {"Reihe": "Simulation RSZ 2", "Zeit": 17.77, "Druck": 29.2},
      {"Reihe": "Simulation RSZ 2", "Zeit": 17.8, "Druck": 28.5},
      {"Reihe": "Simulation RSZ 2", "Zeit": 17.81, "Druck": 26.7},
      {"Reihe": "Simulation RSZ 2", "Zeit": 17.83, "Druck": 19.5},
      {"Reihe": "Simulation RSZ 2", "Zeit": 17.85, "Druck": 15.0},
      {"Reihe": "Simulation RSZ 2", "Zeit": 17.87, "Druck": 14.8},
      {"Reihe": "Simulation RSZ 2", "Zeit": 17.9, "Druck": 15.0},
      {"Reihe": "Simulation RSZ 2", "Zeit": 17.93, "Druck": 15.1},
      {"Reihe": "Simulation RSZ 2", "Zeit": 18.0, "Druck": 15.0},
      {"Reihe": "Simulation RSZ 2", "Zeit": 18.13, "Druck": 14.95},
      {"Reihe": "Simulation RSZ 2", "Zeit": 18.25, "Druck": 15.1},
      {"Reihe": "Simulation RSZ 2", "Zeit": 18.35, "Druck": 15.3},
      {"Reihe": "Simulation RSZ 2", "Zeit": 18.45, "Druck": 15.55},
      {"Reihe": "Simulation RSZ 2", "Zeit": 18.55, "Druck": 15.95},
      {"Reihe": "Simulation RSZ 2", "Zeit": 18.61, "Druck": 16.4},
      {"Reihe": "Simulation RSZ 2", "Zeit": 18.71, "Druck": 17.3},
      {"Reihe": "Simulation RSZ 2", "Zeit": 18.81, "Druck": 17.9},
      {"Reihe": "Simulation RSZ 2", "Zeit": 18.91, "Druck": 18.45},
      {"Reihe": "Simulation RSZ 2", "Zeit": 19.01, "Druck": 18.8},
      {"Reihe": "Simulation RSZ 2", "Zeit": 19.11, "Druck": 18.95},
      {"Reihe": "Simulation RSZ 2", "Zeit": 19.2, "Druck": 19.0},
      {"Reihe": "Simulation RSZ 2", "Zeit": 19.31, "Druck": 18.8},
      {"Reihe": "Simulation RSZ 2", "Zeit": 19.42, "Druck": 18.4},
      {"Reihe": "Simulation RSZ 2", "Zeit": 19.52, "Druck": 17.8},
      {"Reihe": "Simulation RSZ 2", "Zeit": 19.62, "Druck": 17.15},
      {"Reihe": "Simulation RSZ 2", "Zeit": 19.72, "Druck": 16.5},
      {"Reihe": "Simulation RSZ 2", "Zeit": 19.82, "Druck": 15.9},
      {"Reihe": "Simulation RSZ 2", "Zeit": 19.92, "Druck": 15.5},
      {"Reihe": "Simulation RSZ 2", "Zeit": 20.02, "Druck": 15.15},
      {"Reihe": "Simulation RSZ 2", "Zeit": 20.12, "Druck": 14.95},
      {"Reihe": "Simulation RSZ 2", "Zeit": 20.22, "Druck": 14.85},
      {"Reihe": "Simulation RSZ 2", "Zeit": 20.32, "Druck": 14.9},
      {"Reihe": "Simulation RSZ 2", "Zeit": 20.42, "Druck": 15.2},
      {"Reihe": "Simulation RSZ 2", "Zeit": 20.52, "Druck": 15.55},
      {"Reihe": "Simulation RSZ 2", "Zeit": 20.62, "Druck": 16.0},
      {"Reihe": "Simulation RSZ 2", "Zeit": 20.72, "Druck": 16.45},
      {"Reihe": "Simulation RSZ 2", "Zeit": 20.82, "Druck": 16.9},
      {"Reihe": "Simulation RSZ 2", "Zeit": 20.92, "Druck": 17.2},
      {"Reihe": "Simulation RSZ 2", "Zeit": 21.02, "Druck": 17.45},
      {"Reihe": "Simulation RSZ 2", "Zeit": 21.12, "Druck": 17.65},
      {"Reihe": "Simulation RSZ 2", "Zeit": 21.24, "Druck": 17.75},
      {"Reihe": "Simulation RSZ 2", "Zeit": 21.34, "Druck": 17.7},
      {"Reihe": "Simulation RSZ 2", "Zeit": 21.45, "Druck": 17.5},
      {"Reihe": "Simulation RSZ 2", "Zeit": 21.54, "Druck": 17.25},
      {"Reihe": "Simulation RSZ 2", "Zeit": 21.64, "Druck": 16.75},
      {"Reihe": "Simulation RSZ 2", "Zeit": 21.75, "Druck": 16.2},
      {"Reihe": "Simulation RSZ 2", "Zeit": 21.85, "Druck": 15.85},
      {"Reihe": "Simulation RSZ 2", "Zeit": 21.95, "Druck": 15.6},
      {"Reihe": "Simulation RSZ 2", "Zeit": 22.1, "Druck": 15.35},
      {"Reihe": "Simulation RSZ 2", "Zeit": 22.25, "Druck": 15.25},
      {"Reihe": "Simulation RSZ 2", "Zeit": 22.45, "Druck": 15.25},
      {"Reihe": "Simulation RSZ 2", "Zeit": 22.55, "Druck": 15.4},
      {"Reihe": "Simulation RSZ 2", "Zeit": 22.65, "Druck": 15.6},
      {"Reihe": "Simulation RSZ 2", "Zeit": 22.75, "Druck": 15.85},
      {"Reihe": "Simulation RSZ 2", "Zeit": 22.867, "Druck": 16.1},

      {"Reihe": "Simulation RSZ 4", "Zeit": 16.976, "Druck": 28.8},
      {"Reihe": "Simulation RSZ 4", "Zeit": 17.77, "Druck": 28.8},
      {"Reihe": "Simulation RSZ 4", "Zeit": 17.8, "Druck": 28.0},
      {"Reihe": "Simulation RSZ 4", "Zeit": 17.81, "Druck": 26.7},
      {"Reihe": "Simulation RSZ 4", "Zeit": 17.83, "Druck": 21.3},
      {"Reihe": "Simulation RSZ 4", "Zeit": 17.84, "Druck": 17.5},
      {"Reihe": "Simulation RSZ 4", "Zeit": 17.86, "Druck": 16.6},
      {"Reihe": "Simulation RSZ 4", "Zeit": 17.89, "Druck": 16.95},
      {"Reihe": "Simulation RSZ 4", "Zeit": 17.95, "Druck": 17.0},
      {"Reihe": "Simulation RSZ 4", "Zeit": 18.1, "Druck": 17.1},
      {"Reihe": "Simulation RSZ 4", "Zeit": 18.21, "Druck": 17.1},
      {"Reihe": "Simulation RSZ 4", "Zeit": 18.31, "Druck": 17.05},
      {"Reihe": "Simulation RSZ 4", "Zeit": 18.41, "Druck": 16.95},
      {"Reihe": "Simulation RSZ 4", "Zeit": 18.51, "Druck": 16.75},
      {"Reihe": "Simulation RSZ 4", "Zeit": 18.61, "Druck": 16.45},
      {"Reihe": "Simulation RSZ 4", "Zeit": 18.71, "Druck": 15.9},
      {"Reihe": "Simulation RSZ 4", "Zeit": 18.81, "Druck": 15.2},
      {"Reihe": "Simulation RSZ 4", "Zeit": 18.91, "Druck": 14.55},
      {"Reihe": "Simulation RSZ 4", "Zeit": 19.01, "Druck": 14.1},
      {"Reihe": "Simulation RSZ 4", "Zeit": 19.1, "Druck": 13.85},
      {"Reihe": "Simulation RSZ 4", "Zeit": 19.17, "Druck": 13.8},
      {"Reihe": "Simulation RSZ 4", "Zeit": 19.25, "Druck": 13.9},
      {"Reihe": "Simulation RSZ 4", "Zeit": 19.33, "Druck": 14.15},
      {"Reihe": "Simulation RSZ 4", "Zeit": 19.42, "Druck": 14.6},
      {"Reihe": "Simulation RSZ 4", "Zeit": 19.52, "Druck": 15.25},
      {"Reihe": "Simulation RSZ 4", "Zeit": 19.62, "Druck": 15.85},
      {"Reihe": "Simulation RSZ 4", "Zeit": 19.72, "Druck": 16.45},
      {"Reihe": "Simulation RSZ 4", "Zeit": 19.82, "Druck": 16.95},
      {"Reihe": "Simulation RSZ 4", "Zeit": 19.92, "Druck": 17.35},
      {"Reihe": "Simulation RSZ 4", "Zeit": 20.02, "Druck": 17.65},
      {"Reihe": "Simulation RSZ 4", "Zeit": 20.12, "Druck": 17.85},
      {"Reihe": "Simulation RSZ 4", "Zeit": 20.22, "Druck": 17.95},
      {"Reihe": "Simulation RSZ 4", "Zeit": 20.32, "Druck": 17.95},
      {"Reihe": "Simulation RSZ 4", "Zeit": 20.42, "Druck": 17.8},
      {"Reihe": "Simulation RSZ 4", "Zeit": 20.52, "Druck": 17.5},
      {"Reihe": "Simulation RSZ 4", "Zeit": 20.62, "Druck": 17.15},
      {"Reihe": "Simulation RSZ 4", "Zeit": 20.72, "Druck": 16.7},
      {"Reihe": "Simulation RSZ 4", "Zeit": 20.82, "Druck": 16.25},
      {"Reihe": "Simulation RSZ 4", "Zeit": 20.92, "Druck": 15.85},
      {"Reihe": "Simulation RSZ 4", "Zeit": 21.02, "Druck": 15.5},
      {"Reihe": "Simulation RSZ 4", "Zeit": 21.12, "Druck": 15.25},
      {"Reihe": "Simulation RSZ 4", "Zeit": 21.24, "Druck": 15.05},
      {"Reihe": "Simulation RSZ 4", "Zeit": 21.35, "Druck": 15.05},
      {"Reihe": "Simulation RSZ 4", "Zeit": 21.45, "Druck": 15.15},
      {"Reihe": "Simulation RSZ 4", "Zeit": 21.55, "Druck": 15.5},
      {"Reihe": "Simulation RSZ 4", "Zeit": 21.65, "Druck": 15.85},
      {"Reihe": "Simulation RSZ 4", "Zeit": 21.75, "Druck": 16.2},
      {"Reihe": "Simulation RSZ 4", "Zeit": 21.85, "Druck": 16.6},
      {"Reihe": "Simulation RSZ 4", "Zeit": 21.95, "Druck": 16.95},
      {"Reihe": "Simulation RSZ 4", "Zeit": 22.1, "Druck": 17.25},
      {"Reihe": "Simulation RSZ 4", "Zeit": 22.25, "Druck": 17.5},
      {"Reihe": "Simulation RSZ 4", "Zeit": 22.4, "Druck": 17.55},
      {"Reihe": "Simulation RSZ 4", "Zeit": 22.5, "Druck": 17.5},
      {"Reihe": "Simulation RSZ 4", "Zeit": 22.65, "Druck": 17.3},
      {"Reihe": "Simulation RSZ 4", "Zeit": 22.75, "Druck": 17.05},
      {"Reihe": "Simulation RSZ 4", "Zeit": 22.867, "Druck": 16.65}
    ]
  },
  "spacing": 24,
  "resolve": {"scale": {"color": "independent", "y": "independent", "x": "independent"}, "legend": {"color": "independent"}},
  "vconcat": [
    {
      "title": {"text": "Antriebsseite"},
      "width": 978,
      "height": 237,
      "data": {"name": "antrieb"},
      "encoding": {
        "x": {"field": "Zeit", "type": "quantitative",
              "scale": {"domain": [16.976, 22.867], "nice": false, "zero": false},
              "axis": {"title": "Zeit (Sek)", "values": [17, 18, 19, 20, 21, 22]}},
        "y": {"field": "Druck", "type": "quantitative",
              "scale": {"domain": [12.97, 35.7], "nice": false, "zero": false},
              "axis": {"title": "Druck RSZ (bar)", "values": [15, 20, 25, 30, 35]}},
        "color": {"field": "Reihe", "type": "nominal",
                  "scale": {"domain": ["Messdaten RSZ 1", "Messdaten RSZ 3", "Simulation RSZ 1", "Simulation RSZ 3"],
                            "range": ["#0000ff", "#ff00ff", "#00ffff", "#ff0000"]},
                  "legend": {"title": null, "orient": "none", "legendX": 724, "legendY": 8}}
      },
      "layer": [
        {"transform": [{"filter": "indexof(datum.Reihe, 'Messdaten') === 0"}],
         "mark": {"type": "line", "strokeWidth": 3, "clip": true, "interpolate": "step-after"}},
        {"transform": [{"filter": "indexof(datum.Reihe, 'Simulation') === 0"}],
         "mark": {"type": "line", "strokeWidth": 3, "clip": true, "interpolate": "monotone"}}
      ]
    },
    {
      "title": {"text": "Ausbauseite"},
      "width": 978,
      "height": 237,
      "data": {"name": "ausbau"},
      "encoding": {
        "x": {"field": "Zeit", "type": "quantitative",
              "scale": {"domain": [16.976, 22.867], "nice": false, "zero": false},
              "axis": {"title": "Zeit (Sek)", "values": [17, 18, 19, 20, 21, 22]}},
        "y": {"field": "Druck", "type": "quantitative",
              "scale": {"domain": [10.5, 36.2], "nice": false, "zero": false},
              "axis": {"title": "Druck RSZ (bar)", "values": [15, 20, 25, 30, 35]}},
        "color": {"field": "Reihe", "type": "nominal",
                  "scale": {"domain": ["Messdaten RSZ 2", "Messdaten RSZ 4", "Simulation RSZ 2", "Simulation RSZ 4"],
                            "range": ["#0000ff", "#ff00ff", "#00ffff", "#ff0000"]},
                  "legend": {"title": null, "orient": "none", "legendX": 724, "legendY": 8}}
      },
      "layer": [
        {"transform": [{"filter": "indexof(datum.Reihe, 'Messdaten') === 0"}],
         "mark": {"type": "line", "strokeWidth": 3, "clip": true, "interpolate": "step-after"}},
        {"transform": [{"filter": "indexof(datum.Reihe, 'Simulation') === 0"}],
         "mark": {"type": "line", "strokeWidth": 3, "clip": true, "interpolate": "monotone"}}
      ]
    }
  ]
}
